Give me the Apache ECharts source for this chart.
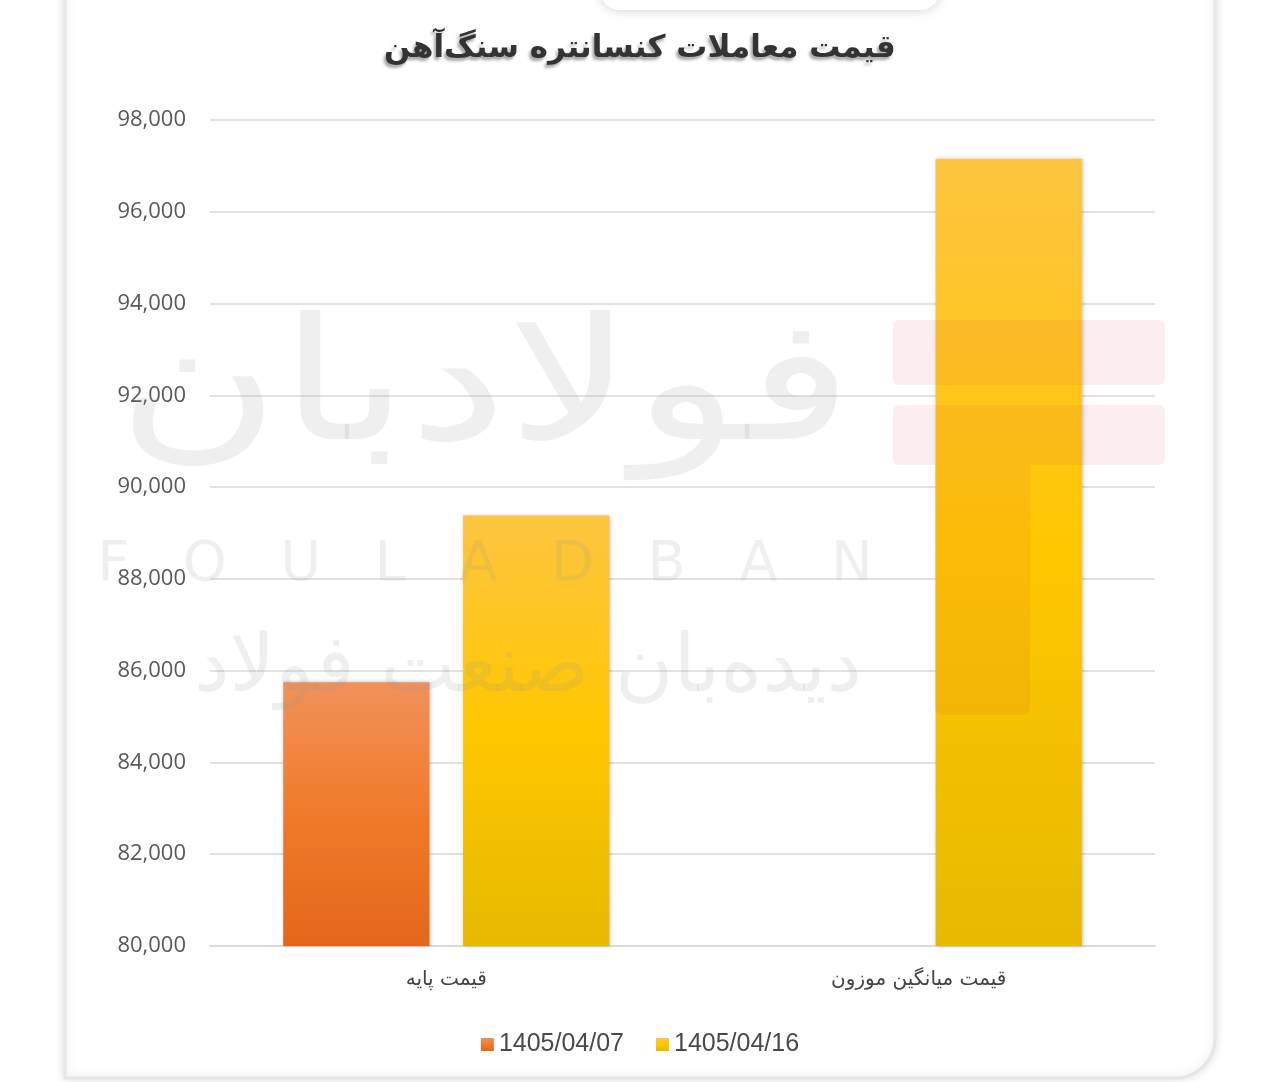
<!DOCTYPE html>
<html>
<head>
<meta charset="utf-8">
<script src="https://cdn.jsdelivr.net/npm/echarts@6/dist/echarts.min.js"></script>
<style>
html,body{margin:0;padding:0;background:#fff;}
#chart{width:1280px;height:1082px;}
</style>
</head>
<body>
<div id="chart"></div>
<script>
const categories = ['قیمت پایه', 'قیمت میانگین موزون'];
const seriesNames = ['1405/04/07', '1405/04/16'];
const seriesA = [85750, null];
const seriesB = [89380, 97150];
const yMin = 80000, yMax = 98000, yStep = 2000;

const chart = echarts.init(document.getElementById('chart'));
const orangeGrad = new echarts.graphic.LinearGradient(0,0,0,1,[
  {offset:0,color:'#F1925A'},{offset:0.5,color:'#F07A2A'},{offset:1,color:'#E4661A'}]);
const yellowGrad = new echarts.graphic.LinearGradient(0,0,0,1,[
  {offset:0,color:'#FDC540'},{offset:0.5,color:'#FFC700'},{offset:1,color:'#E6B900'}]);

const wm = 'rgba(150,150,150,0.15)';
const wmRed = 'rgba(225,70,70,0.09)';

chart.setOption({
  backgroundColor:'#ffffff',
  animation:false,
  title:{
    text:'قیمت معاملات کنسانتره سنگ‌آهن',
    left:'center', top:28,
    textStyle:{fontFamily:'DejaVu Sans', fontSize:31, fontWeight:'bold', color:'#333',
      textShadowColor:'rgba(0,0,0,0.35)', textShadowBlur:3, textShadowOffsetX:-2, textShadowOffsetY:3}
  },
  legend:{
    data:seriesNames, bottom:20, left:'center',
    itemWidth:13, itemHeight:13, itemGap:32,
    icon:'rect',
    textStyle:{fontFamily:'Liberation Sans Narrow, Liberation Sans', fontSize:25, color:'#4a4a4a'}
  },
  grid:{left:210, right:125, top:120, bottom:136},
  xAxis:{
    type:'category', data:categories,
    axisLine:{show:true, lineStyle:{color:'#d9d9d9', width:1.5}},
    axisTick:{show:false},
    axisLabel:{fontFamily:'DejaVu Sans', fontSize:20, color:'#444', margin:24}
  },
  yAxis:{
    type:'value', min:yMin, max:yMax, interval:yStep,
    axisLine:{show:false}, axisTick:{show:false},
    splitLine:{lineStyle:{color:'#d9d9d9', width:1.5}},
    axisLabel:{fontFamily:'Open Sans', fontSize:22, color:'#595959', margin:24,
      formatter:v=>v.toLocaleString('en-US')}
  },
  series:[
    {name:seriesNames[0], type:'bar', data:seriesA, barGap:'23%', barCategoryGap:'31%',
      itemStyle:{color:orangeGrad, shadowColor:'rgba(0,0,0,0.25)', shadowBlur:4, shadowOffsetX:1}},
    {name:seriesNames[1], type:'bar', data:seriesB,
      itemStyle:{color:yellowGrad, shadowColor:'rgba(0,0,0,0.25)', shadowBlur:4, shadowOffsetX:1}}
  ],
  graphic:[
    {type:'rect', z:-10, silent:true, shape:{x:65, y:-20, width:1150, height:1098, r:[0,0,40,0]},
      style:{fill:'#fff', stroke:'#e6e6e6', lineWidth:3, shadowColor:'rgba(0,0,0,0.12)', shadowBlur:10}},
    {type:'rect', z:-9, silent:true, shape:{x:600, y:-30, width:340, height:40, r:20},
      style:{fill:'#fff', shadowColor:'rgba(0,0,0,0.2)', shadowBlur:12}},
    {type:'rect', z:100, silent:true, shape:{x:893, y:320, width:272, height:65, r:6}, style:{fill:wmRed}},
    {type:'rect', z:100, silent:true, shape:{x:893, y:405, width:272, height:60, r:6}, style:{fill:wmRed}},
    {type:'rect', z:100, silent:true, shape:{x:935, y:465, width:95, height:250, r:[0,0,8,8]}, style:{fill:wmRed}},
    {type:'text', z:100, silent:true, x:485, y:395, scaleX:1.3,
      style:{text:'فولادبان', x:0, y:0, textAlign:'center', textVerticalAlign:'middle',
        fontFamily:'DejaVu Sans', fontSize:170, fill:wm}},
    {type:'text', z:100, silent:true,
      style:{text:'F   O   U   L   A   D   B   A   N', x:485, y:565, textAlign:'center', textVerticalAlign:'middle',
        fontFamily:'DejaVu Sans', fontSize:56, fill:wm}},
    {type:'text', z:100, silent:true,
      style:{text:'دیده‌بان صنعت فولاد', x:528, y:670, textAlign:'center', textVerticalAlign:'middle',
        fontFamily:'DejaVu Sans', fontSize:80, fill:wm}}
  ]
});
</script>
</body>
</html>
